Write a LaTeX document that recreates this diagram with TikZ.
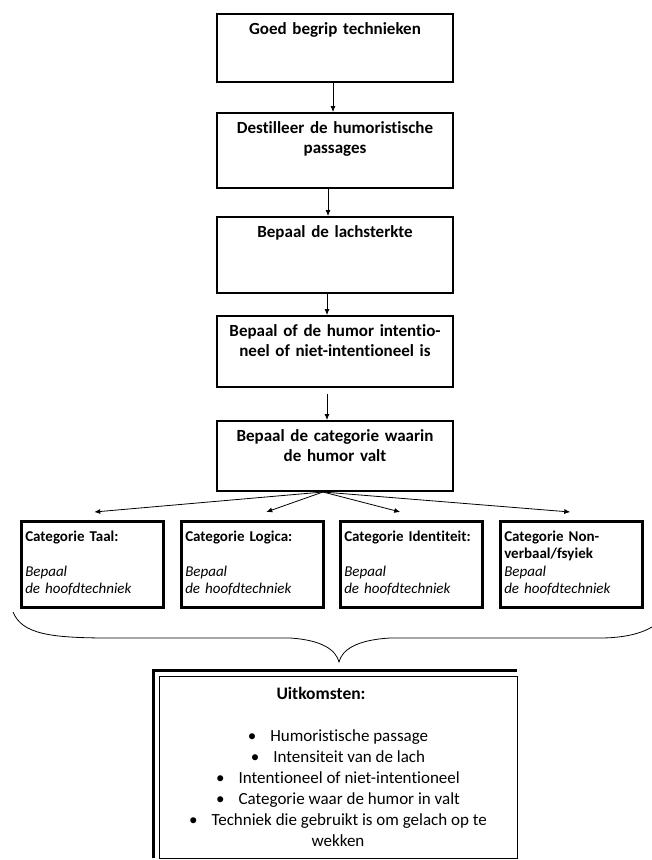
\documentclass[tikz,border=0pt]{standalone}
\usepackage{fontspec}
\setmainfont{Carlito}[Ligatures=NoCommon]
\usepackage{tikz}
\usetikzlibrary{arrows.meta}

\begin{document}
\begin{tikzpicture}[x=1pt, y=-1pt,
		stepbox/.style={draw=black, line width=2pt, minimum width=236pt, text width=226pt,
			align=center, anchor=north, inner xsep=5pt, inner ysep=0pt, text height=20.5pt,
			font=\bfseries\fontsize{17}{20}\selectfont},
		catbox/.style={draw=black, line width=2.5pt, minimum width=142pt, text width=134pt,
			align=left, anchor=north west, inner xsep=4pt, inner ysep=0pt, text height=20pt,
			text depth=66pt, font=\fontsize{15}{17.5}\selectfont},
		resultbox/.style={draw=black, line width=0.8pt, minimum width=358pt, minimum height=182pt,
			align=center, font=\fontsize{17}{21}\selectfont},
		arrow_style/.style={draw=black, line width=0.8pt, -{Latex[length=6pt,width=5pt]}},
		brace_style/.style={draw=black, line width=0.8pt}]
		
		\useasboundingbox (0,0) rectangle (652,860);
		
		% steps
		\node[stepbox, text depth=47.5pt] (b1) at (335,13) {Goed begrip technieken};
		\node[stepbox, text depth=54.5pt] (b2) at (335,112) {Destilleer de humoristische\\passages};
		\node[stepbox, text depth=55.5pt] (b3) at (335,216) {Bepaal de lachsterkte};
		\node[stepbox, text depth=50.5pt] (b4) at (335,315) {Bepaal of de humor intentio-\\neel of niet-intentioneel is};
		\node[stepbox, text depth=49.5pt] (b5) at (335,420) {Bepaal de categorie waarin\\de humor valt};
		
		% categories
		\node[catbox] (taal) at (20,520) {\textbf{Categorie Taal:}\\[17.5pt]\textit{Bepaal}\\\textit{de hoofdtechniek}};
		\node[catbox] (logica) at (180,520) {\textbf{Categorie Logica:}\\[17.5pt]\textit{Bepaal}\\\textit{de hoofdtechniek}};
		\node[catbox] (ident) at (339,520) {\textbf{Categorie Identiteit:}\\[17.5pt]\textit{Bepaal}\\\textit{de hoofdtechniek}};
		\node[catbox] (non) at (499,520) {\textbf{Categorie Non-}\\\textbf{verbaal/fsyiek}\\\textit{Bepaal}\\\textit{de hoofdtechniek}};
		
		% outcomes
		\node[resultbox] (uitkomst) at (338,767) {\textbf{\fontsize{17.5}{21}\selectfont Uitkomsten:}\hspace*{34pt}\\[21pt]
			\textbullet\hspace{14pt}Humoristische passage\\
			\textbullet\hspace{14pt}Intensiteit van de lach\\
			\textbullet\hspace{14pt}Intentioneel of niet-intentioneel\\
			\textbullet\hspace{14pt}Categorie waar de humor in valt\\
			\textbullet\hspace{14pt}Techniek die gebruikt is om gelach op te\\
			wekken};
		\draw[line width=3pt] ([xshift=-5pt]uitkomst.south west) -- ([xshift=-5pt, yshift=5pt]uitkomst.north west)
			-- ([yshift=5pt]uitkomst.north east);
		
		\draw[arrow_style] ([xshift=-2pt]b1.south) -- ([xshift=-2pt]b2.north);
		\draw[arrow_style] ([xshift=-7pt]b2.south) -- ([xshift=-7pt]b3.north);
		\draw[arrow_style] ([xshift=-8pt]b3.south) -- ([xshift=-8pt]b4.north);
		\draw[arrow_style, shorten <=6pt] ([xshift=-8pt]b4.south) -- ([xshift=-8pt]b5.north);
		
		\foreach \c/\dx in {taal/2, logica/14, ident/-11, non/-1}
			\draw[arrow_style] ([xshift=-12pt]b5.south) -- ([xshift=\dx pt, yshift=8pt]\c.north);
		
		% brace
		\draw[brace_style] (13,612) .. controls (22,634) and (50,638) .. (110,638) -- (290,638)
			.. controls (322,640) and (336,650) .. (339,662)
			.. controls (342,650) and (356,640) .. (390,638) -- (600,638)
			.. controls (625,638) and (642,633) .. (652,627);
		
		\end{tikzpicture}
\end{document}
